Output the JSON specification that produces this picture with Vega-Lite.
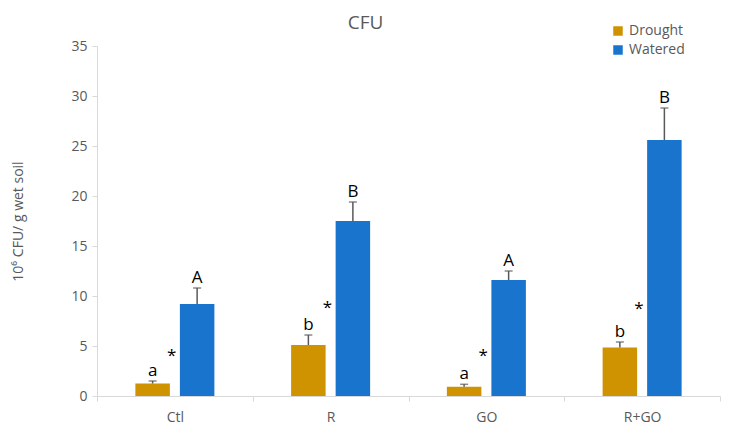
{
  "$schema": "https://vega.github.io/schema/vega-lite/v6.json",
  "width": 623,
  "height": 350,
  "autosize": {"type": "none"},
  "padding": {"left": 97, "top": 46, "right": 10, "bottom": 39},
  "background": "white",
  "config": {
    "font": "Open Sans",
    "view": {"stroke": null},
    "title": {"fontSize": 19, "fontWeight": "normal", "color": "#595959"}
  },
  "title": {"text": "CFU", "anchor": "middle", "dx": -43, "offset": 14, "dy": 23},
  "datasets": {
    "bars": [
      {"group": "Ctl", "treatment": "Drought", "value": 1.25, "upper": 1.5, "letter": "a"},
      {"group": "Ctl", "treatment": "Watered", "value": 9.2, "upper": 10.8, "letter": "A"},
      {"group": "R", "treatment": "Drought", "value": 5.1, "upper": 6.1, "letter": "b"},
      {"group": "R", "treatment": "Watered", "value": 17.5, "upper": 19.4, "letter": "B"},
      {"group": "GO", "treatment": "Drought", "value": 0.92, "upper": 1.17, "letter": "a"},
      {"group": "GO", "treatment": "Watered", "value": 11.6, "upper": 12.5, "letter": "A"},
      {"group": "R+GO", "treatment": "Drought", "value": 4.85, "upper": 5.4, "letter": "b"},
      {"group": "R+GO", "treatment": "Watered", "value": 25.6, "upper": 28.8, "letter": "B"}
    ],
    "stars": [
      {"group": "Ctl", "treatment": "Drought", "star_y": 4.3, "mark": "*"},
      {"group": "R", "treatment": "Drought", "star_y": 9.1, "mark": "*"},
      {"group": "GO", "treatment": "Drought", "star_y": 4.3, "mark": "*"},
      {"group": "R+GO", "treatment": "Drought", "star_y": 9.0, "mark": "*"}
    ]
  },
  "encoding": {
    "x": {
      "field": "group",
      "type": "nominal",
      "sort": ["Ctl", "R", "GO", "R+GO"],
      "scale": {"paddingInner": 0, "paddingOuter": 0},
      "axis": {
        "title": null,
        "labelAngle": 0,
        "labelFontSize": 14,
        "labelColor": "#595959",
        "labelPadding": 9,
        "domainColor": "#d9d9d9",
        "tickColor": "#d9d9d9",
        "tickBand": "extent",
        "tickSize": 5
      }
    },
    "xOffset": {
      "field": "treatment",
      "type": "nominal",
      "sort": ["Drought", "Watered"],
      "scale": {"paddingInner": 0.225, "paddingOuter": 0.862}
    }
  },
  "layer": [
    {
      "data": {"name": "bars"},
      "mark": {"type": "bar"},
      "encoding": {
        "y": {
          "field": "value",
          "type": "quantitative",
          "scale": {"domain": [0, 35]},
          "axis": {
            "values": [0, 5, 10, 15, 20, 25, 30, 35],
            "grid": false,
            "title": "10⁶ CFU/ g wet soil",
            "titleFontSize": 14,
            "titleFontWeight": "normal",
            "titleColor": "#595959",
            "titlePadding": 45,
            "labelFontSize": 14,
            "labelColor": "#595959",
            "labelPadding": 5,
            "domainColor": "#d9d9d9",
            "tickColor": "#d9d9d9",
            "tickSize": 5
          }
        },
        "color": {
          "field": "treatment",
          "type": "nominal",
          "sort": ["Drought", "Watered"],
          "scale": {"domain": ["Drought", "Watered"], "range": ["#CF9200", "#1874CD"]},
          "legend": {
            "title": null,
            "orient": "none",
            "legendX": 514,
            "legendY": -22,
            "symbolType": "square",
            "symbolSize": 90,
            "symbolStrokeWidth": 0,
            "labelFontSize": 14,
            "labelColor": "#595959",
            "rowPadding": 5
          }
        }
      }
    },
    {
      "data": {"name": "bars"},
      "mark": {"type": "rule", "color": "#595959", "strokeWidth": 1.5},
      "encoding": {
        "y": {"field": "value", "type": "quantitative"},
        "y2": {"field": "upper"}
      }
    },
    {
      "data": {"name": "bars"},
      "mark": {"type": "tick", "color": "#595959", "thickness": 1.5, "size": 8, "orient": "horizontal"},
      "encoding": {
        "y": {"field": "upper", "type": "quantitative"}
      }
    },
    {
      "data": {"name": "bars"},
      "mark": {"type": "text", "baseline": "bottom", "dy": -1, "fontSize": 17, "color": "#000000"},
      "encoding": {
        "y": {"field": "upper", "type": "quantitative"},
        "text": {"field": "letter"}
      }
    },
    {
      "data": {"name": "stars"},
      "mark": {"type": "text", "baseline": "middle", "dx": 19, "dy": 3, "fontSize": 17, "color": "#000000"},
      "encoding": {
        "y": {"field": "star_y", "type": "quantitative"},
        "text": {"field": "mark"}
      }
    }
  ]
}
